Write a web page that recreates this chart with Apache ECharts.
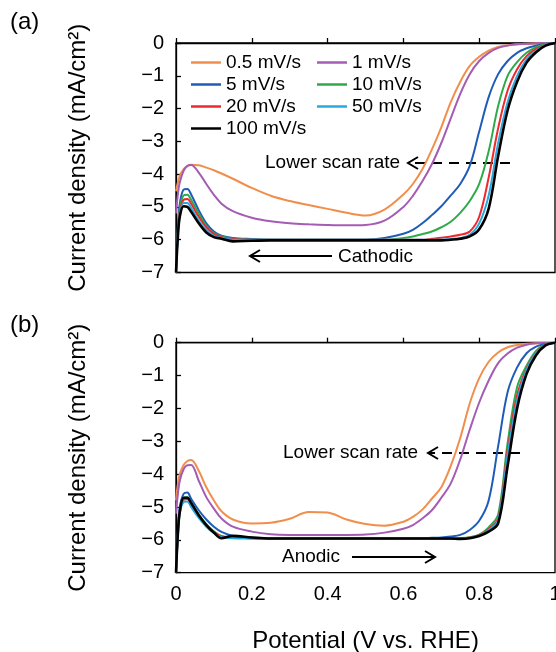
<!DOCTYPE html>
<html>
<head>
<meta charset="utf-8">
<script src="https://cdn.jsdelivr.net/npm/echarts@6/dist/echarts.min.js"></script>
<style>
  html, body { margin: 0; padding: 0; background: #fff; }
  #main { width: 556px; height: 652px; }
</style>
</head>
<body>
<div id="main"></div>
<script>
// potential grid (V vs. RHE), shared by every curve
var potential = [0, 0.005, 0.01, 0.02, 0.03, 0.04, 0.06, 0.08, 0.1, 0.12, 0.15, 0.2, 0.25, 0.3, 0.35, 0.4, 0.45, 0.5, 0.55, 0.6,
  0.625, 0.65, 0.675, 0.7, 0.725, 0.75, 0.775, 0.8, 0.825, 0.85, 0.875, 0.9, 0.925, 0.95, 0.975, 1];

var scanRates = ["0.5 mV/s", "1 mV/s", "5 mV/s", "10 mV/s", "20 mV/s", "50 mV/s", "100 mV/s"];

// (a) cathodic scan, current density (mA/cm2)
var cathodic05 = [-4.52, -4.25, -4.05, -3.85, -3.75, -3.71, -3.73, -3.8, -3.88, -3.98, -4.14, -4.42, -4.66, -4.82, -4.94, -5.06, -5.18, -5.26, -5.08, -4.62,
  -4.3, -3.85, -3.25, -2.57, -1.8, -1.18, -0.7, -0.42, -0.23, -0.12, -0.07, -0.04, -0.02, -0.01, 0, 0];
var cathodic1 = [-5.2, -4.6, -4.25, -3.9, -3.75, -3.72, -3.95, -4.3, -4.63, -4.9, -5.13, -5.33, -5.44, -5.5, -5.53, -5.55, -5.56, -5.55, -5.42, -5.0,
  -4.66, -4.22, -3.7, -3.05, -2.3, -1.55, -0.95, -0.55, -0.3, -0.15, -0.08, -0.04, -0.02, -0.01, 0, 0];
var cathodic5 = [-7, -5.6, -4.9, -4.47, -4.45, -4.62, -5.1, -5.5, -5.75, -5.88, -5.95, -5.98, -6, -6, -6, -6, -6, -6, -5.95, -5.82,
  -5.7, -5.5, -5.25, -4.98, -4.65, -4.3, -3.75, -2.7, -1.65, -0.95, -0.55, -0.3, -0.16, -0.08, -0.03, 0];
var cathodic10 = [-7, -5.7, -5.05, -4.65, -4.63, -4.78, -5.2, -5.58, -5.8, -5.9, -5.97, -6, -6, -6, -6, -6, -6, -6, -6, -5.95,
  -5.9, -5.83, -5.75, -5.62, -5.45, -5.18, -4.82, -4.3, -3.3, -1.92, -1.0, -0.58, -0.3, -0.13, -0.03, 0];
var cathodic20 = [-7, -5.8, -5.15, -4.78, -4.76, -4.9, -5.3, -5.62, -5.82, -5.92, -5.98, -6, -6, -6, -6, -6, -6, -6, -6, -6,
  -6, -6, -5.97, -5.94, -5.9, -5.85, -5.75, -5.3, -4.1, -2.6, -1.45, -0.8, -0.4, -0.18, -0.05, 0];
var cathodic50 = [-7, -5.85, -5.25, -4.88, -4.88, -5.03, -5.42, -5.7, -5.88, -5.95, -6, -6, -6, -6, -6, -6, -6, -6, -6, -6,
  -6, -6, -6, -6, -5.98, -5.95, -5.85, -5.5, -4.65, -3.05, -1.8, -1.0, -0.5, -0.24, -0.06, 0];
var cathodic100 = [-7, -5.9, -5.3, -4.98, -5.0, -5.15, -5.5, -5.78, -5.92, -5.97, -6.05, -6.03, -6.02, -6.02, -6.02, -6.02, -6.02, -6.02, -6.02, -6.02,
  -6.02, -6.02, -6.02, -6.02, -6.0, -5.97, -5.9, -5.68, -5.05, -3.45, -2.05, -1.18, -0.6, -0.28, -0.08, 0];

// (b) anodic scan
var anodic05 = [-4.8, -4.3, -4.0, -3.72, -3.6, -3.57, -3.9, -4.4, -4.8, -5.13, -5.38, -5.5, -5.48, -5.36, -5.15, -5.17, -5.38, -5.52, -5.57, -5.45,
  -5.3, -5.08, -4.75, -4.4, -3.75, -2.9, -1.85, -1.08, -0.58, -0.3, -0.14, -0.07, -0.03, -0.02, -0.01, 0];
var anodic1 = [-5.2, -4.6, -4.2, -3.85, -3.73, -3.72, -4.2, -4.7, -5.05, -5.35, -5.6, -5.75, -5.83, -5.85, -5.85, -5.85, -5.85, -5.84, -5.78, -5.66,
  -5.55, -5.35, -5.1, -4.72, -4.28, -3.55, -2.65, -1.82, -1.15, -0.62, -0.33, -0.15, -0.06, -0.02, -0.01, 0];
var anodic5 = [-7, -5.7, -5.0, -4.6, -4.56, -4.75, -5.1, -5.38, -5.6, -5.76, -5.88, -5.93, -5.95, -5.95, -5.95, -5.95, -5.95, -5.95, -5.95, -5.95,
  -5.95, -5.95, -5.94, -5.93, -5.9, -5.85, -5.7, -5.42, -4.8, -3.15, -1.5, -0.75, -0.32, -0.12, -0.04, 0];
var anodic10 = [-7, -5.8, -5.1, -4.72, -4.7, -4.87, -5.22, -5.52, -5.74, -5.88, -5.92, -5.95, -5.96, -5.96, -5.96, -5.96, -5.96, -5.96, -5.96, -5.96,
  -5.96, -5.96, -5.96, -5.96, -5.96, -5.95, -5.92, -5.84, -5.62, -5.23, -3.05, -1.35, -0.7, -0.25, -0.05, 0];
var anodic20 = [-7, -5.85, -5.15, -4.78, -4.76, -4.92, -5.27, -5.55, -5.76, -5.9, -5.93, -5.95, -5.96, -5.96, -5.96, -5.96, -5.96, -5.96, -5.96, -5.96,
  -5.96, -5.96, -5.96, -5.96, -5.96, -5.96, -5.93, -5.86, -5.67, -5.35, -3.25, -1.6, -0.78, -0.3, -0.06, 0];
var anodic50 = [-7, -5.9, -5.2, -4.85, -4.83, -5.0, -5.33, -5.6, -5.8, -5.92, -5.95, -5.96, -5.97, -5.97, -5.97, -5.97, -5.97, -5.97, -5.97, -5.97,
  -5.97, -5.97, -5.97, -5.97, -5.97, -5.97, -5.94, -5.87, -5.7, -5.4, -3.4, -1.75, -0.82, -0.32, -0.07, 0];
var anodic100 = [-7, -5.8, -5.15, -4.72, -4.72, -4.88, -5.25, -5.55, -5.78, -5.95, -5.88, -5.93, -5.96, -5.96, -5.96, -5.96, -5.96, -5.96, -5.96, -5.96,
  -5.96, -5.96, -5.96, -5.96, -5.96, -5.97, -5.95, -5.88, -5.75, -5.5, -3.75, -2.0, -0.95, -0.38, -0.08, 0];

var cathodicData = [cathodic05, cathodic1, cathodic5, cathodic10, cathodic20, cathodic50, cathodic100];
var anodicData = [anodic05, anodic1, anodic5, anodic10, anodic20, anodic50, anodic100];

var colors = ["#F28E4B", "#A45CB4", "#1F5CB8", "#2EAA4A", "#EC2A2E", "#2AA8E0", "#000000"];
var widths = [2, 2, 2, 2, 2, 2, 2.6];

var FONT = "'Liberation Sans', Arial, sans-serif";

var myChart = echarts.init(document.getElementById("main"));

function pairs(ys) {
  return potential.map(function(p, i) { return [p, ys[i]]; });
}

var series = [];
[cathodicData, anodicData].forEach(function(panel, k) {
  panel.forEach(function(ys, i) {
    series.push({
      name: scanRates[i],
      type: "line",
      xAxisIndex: k,
      yAxisIndex: k,
      data: pairs(ys),
      symbol: "none",
      smooth: 0.35,
      lineStyle: { color: colors[i], width: widths[i] },
      itemStyle: { color: colors[i] },
      z: 2 + i
    });
  });
});

function xAxisOf(idx, showLabel) {
  return {
    type: "value",
    gridIndex: idx,
    min: 0,
    max: 1,
    interval: 0.2,
    axisLine: { lineStyle: { color: "#000", width: 1.3 } },
    axisTick: { inside: true, length: 5, lineStyle: { color: "#000", width: 1.3 } },
    splitLine: { show: false },
    axisLabel: { show: showLabel, fontSize: 20, color: "#000", margin: 12, fontFamily: FONT },
    name: showLabel ? "Potential (V vs. RHE)" : "",
    nameLocation: "middle",
    nameGap: 57,
    nameTextStyle: { fontSize: 24, color: "#000", fontFamily: FONT }
  };
}

function yAxisOf(idx) {
  return {
    type: "value",
    gridIndex: idx,
    min: -7,
    max: 0,
    interval: 1,
    axisLine: { lineStyle: { color: "#000", width: 1.3 } },
    axisTick: { inside: true, length: 5, lineStyle: { color: "#000", width: 1.3 } },
    splitLine: { show: false },
    axisLabel: {
      fontSize: 20, color: "#000", margin: 12, fontFamily: FONT,
      formatter: function(v) { return String(v).replace("-", "\u2212"); }
    },
    name: "Current density (mA/cm\u00B2)",
    nameLocation: "middle",
    nameRotate: 90,
    nameGap: 86,
    nameTextStyle: { fontSize: 24, color: "#000", fontFamily: FONT }
  };
}

function legendOf(names, left) {
  return {
    data: names,
    orient: "vertical",
    left: left,
    top: 53,
    padding: 0,
    icon: "rect",
    itemWidth: 30,
    itemHeight: 2.5,
    itemGap: 3,
    textStyle: { fontSize: 19, color: "#000", fontFamily: FONT }
  };
}

function label(text, x, y, size) {
  return {
    type: "text",
    left: x,
    top: y,
    style: { text: text, fontSize: size, fill: "#000", fontFamily: FONT }
  };
}

function arrow(x1, x2, y, dashed) {
  var dir = x2 < x1 ? 1 : -1; // chevron opens back toward the tail
  return [
    {
      type: "polyline",
      shape: { points: [[x1, y], [x2, y]] },
      style: { stroke: "#000", lineWidth: 2, lineDash: dashed ? [10, 7] : null, fill: null }
    },
    {
      type: "polyline",
      shape: { points: [[x2 + dir * 10, y - 6], [x2, y], [x2 + dir * 10, y + 6]] },
      style: { stroke: "#000", lineWidth: 2, fill: null }
    }
  ];
}

var graphics = [
  label("(a)", 10, 10, 24),
  label("(b)", 10, 313, 24),
  label("Lower scan rate", 265, 153, 19),
  label("Cathodic", 338, 247, 19),
  label("Lower scan rate", 283, 443, 19),
  label("Anodic", 282, 547, 19)
].concat(arrow(510, 408, 163, true))
 .concat(arrow(332, 250, 256, false))
 .concat(arrow(520, 428, 453, true))
 .concat(arrow(352, 435, 557, false));

var gridBase = { left: 176, width: 379, show: true, borderColor: "#000", borderWidth: 1.3, backgroundColor: "transparent", outerBoundsMode: "none" };

var option = {
  animation: false,
  backgroundColor: "#fff",
  textStyle: { fontFamily: FONT },
  grid: [
    Object.assign({ top: 43, height: 229.5 }, gridBase),
    Object.assign({ top: 342.7, height: 230 }, gridBase)
  ],
  xAxis: [xAxisOf(0, false), xAxisOf(1, true)],
  yAxis: [yAxisOf(0), yAxisOf(1)],
  legend: [
    legendOf(["0.5 mV/s", "5 mV/s", "20 mV/s", "100 mV/s"], 191),
    legendOf(["1 mV/s", "10 mV/s", "50 mV/s"], 317)
  ],
  series: series,
  graphic: graphics
};

myChart.setOption(option);
</script>
</body>
</html>
